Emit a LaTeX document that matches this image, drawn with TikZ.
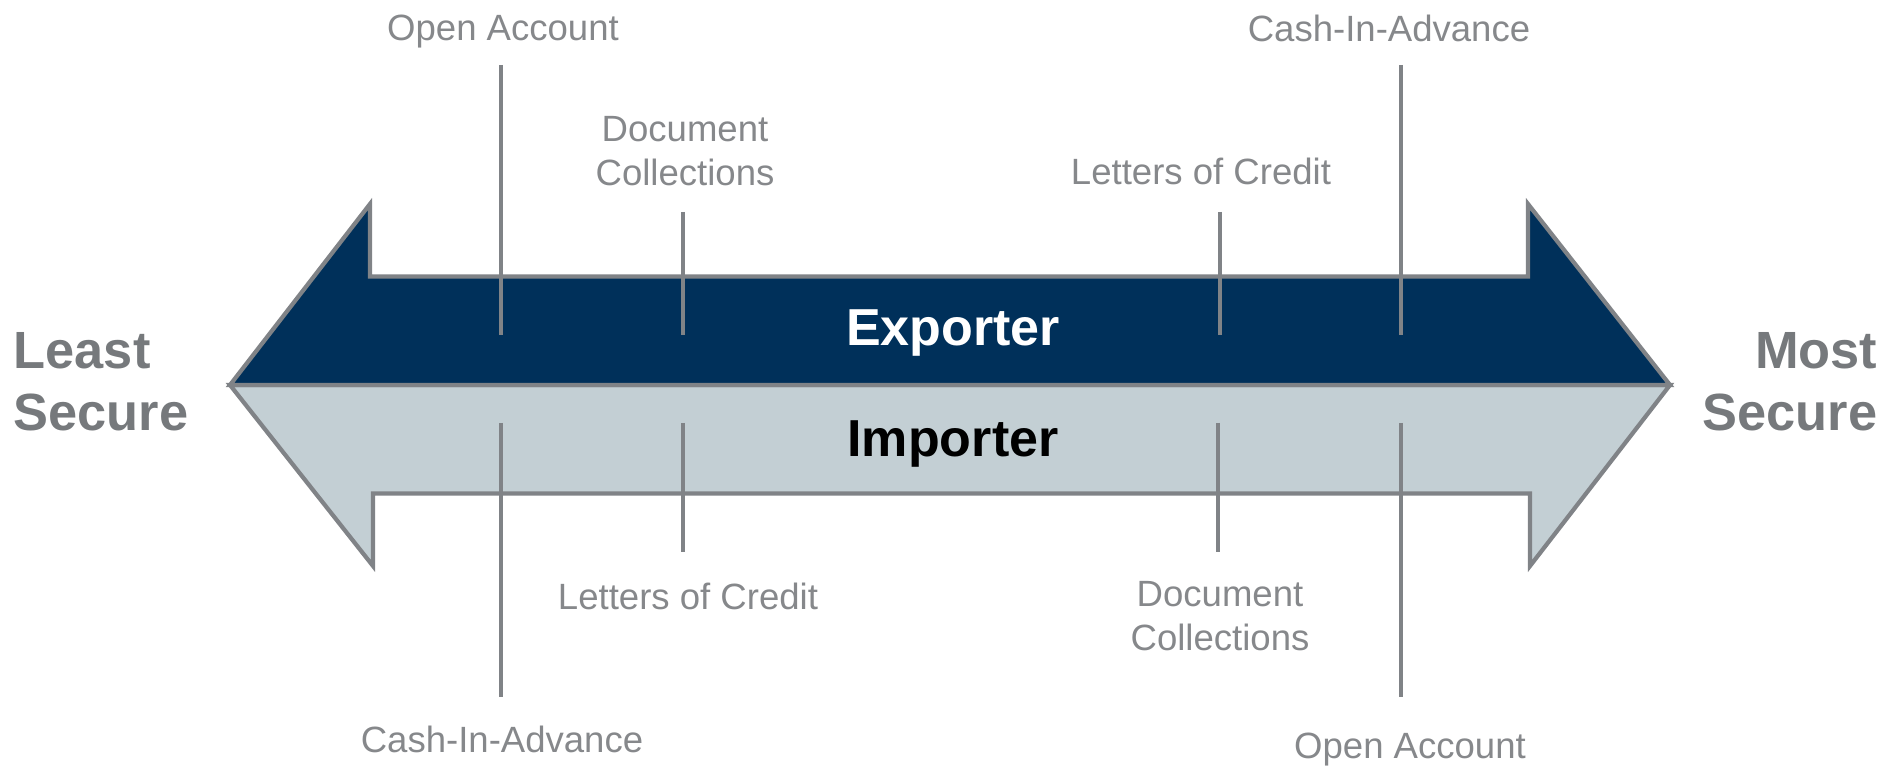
\documentclass[tikz,border=0pt]{standalone}
\usepackage{fontspec}
\setmainfont{Liberation Sans}
\usetikzlibrary{positioning}

\definecolor{navy}{HTML}{00305A}
\definecolor{steel}{HTML}{C3CFD4}
\definecolor{rim}{HTML}{808387}
\definecolor{txtgray}{HTML}{86888B}
\definecolor{headgray}{HTML}{76797C}

\begin{document}
\begin{tikzpicture}[
        method/.style={text=txtgray, font=\fontsize{10.4}{12.6}\selectfont, align=center, inner sep=0pt},
        tick/.style={draw=rim, line width=1pt},
        side/.style={text=headgray, font=\fontsize{14.9}{17.6}\selectfont\bfseries, inner sep=0pt},
        party/.style={font=\fontsize{14.8}{17}\selectfont\bfseries, inner sep=0pt}
    ]
        \useasboundingbox (0,0) rectangle (18.87,7.71);

        % Lower half of the double arrow (importer side)
        \draw[rim, line width=1.2pt, fill=steel] (2.30,3.86) -- (3.73,2.05) -- (3.73,2.775) -- (15.30,2.775) -- (15.30,2.05) -- (16.70,3.86) -- cycle;
        % Upper half of the double arrow (exporter side)
        \draw[rim, line width=1.2pt, fill=navy] (2.30,3.86) -- (3.70,5.67) -- (3.70,4.945) -- (15.28,4.945) -- (15.28,5.67) -- (16.70,3.86) -- cycle;

        % Names on the arrow
        \node[party, text=white] (exp) at (9.53,4.375) {Exporter};
        \node[party, text=black] (imp) at (9.53,3.27) {Importer};

        % Ends of the scale
        \node[side, anchor=west, align=left] (least) at (0.13,3.89) {Least\\Secure};
        \node[side, anchor=east, align=right] (most) at (18.78,3.89) {Most\\Secure};

        % Payment methods, exporter view
        \node[method] (oaE) at (5.03,7.395) {Open Account};
        \node[method] (dcE) at (6.85,6.20) {Document\\Collections};
        \node[method] (lcE) at (12.01,5.995) {Letters of Credit};
        \node[method] (ciaE) at (13.89,7.43) {Cash-In-Advance};

        % Payment methods, importer view
        \node[method] (ciaI) at (5.02,0.32) {Cash-In-Advance};
        \node[method] (lcI) at (6.88,1.745) {Letters of Credit};
        \node[method] (dcI) at (12.20,1.55) {Document\\Collections};
        \node[method] (oaI) at (14.10,0.21) {Open Account};

        % Tick ends
        \coordinate (oaEtop) at (5.01,7.06);
        \coordinate (oaEend) at (5.01,4.36);
        \coordinate (dcEtop) at (6.83,5.59);
        \coordinate (dcEend) at (6.83,4.36);
        \coordinate (lcEtop) at (12.20,5.59);
        \coordinate (lcEend) at (12.20,4.36);
        \coordinate (ciaEtop) at (14.01,7.06);
        \coordinate (ciaEend) at (14.01,4.36);
        \coordinate (ciaItop) at (5.01,3.48);
        \coordinate (ciaIend) at (5.01,0.74);
        \coordinate (lcItop) at (6.83,3.48);
        \coordinate (lcIend) at (6.83,2.19);
        \coordinate (dcItop) at (12.18,3.48);
        \coordinate (dcIend) at (12.18,2.19);
        \coordinate (oaItop) at (14.01,3.48);
        \coordinate (oaIend) at (14.01,0.74);

        % Ticks
        \draw[tick] (oaEtop) -- (oaEend);
        \draw[tick] (dcEtop) -- (dcEend);
        \draw[tick] (lcEtop) -- (lcEend);
        \draw[tick] (ciaEtop) -- (ciaEend);
        \draw[tick] (ciaItop) -- (ciaIend);
        \draw[tick] (lcItop) -- (lcIend);
        \draw[tick] (dcItop) -- (dcIend);
        \draw[tick] (oaItop) -- (oaIend);
    \end{tikzpicture}
\end{document}
